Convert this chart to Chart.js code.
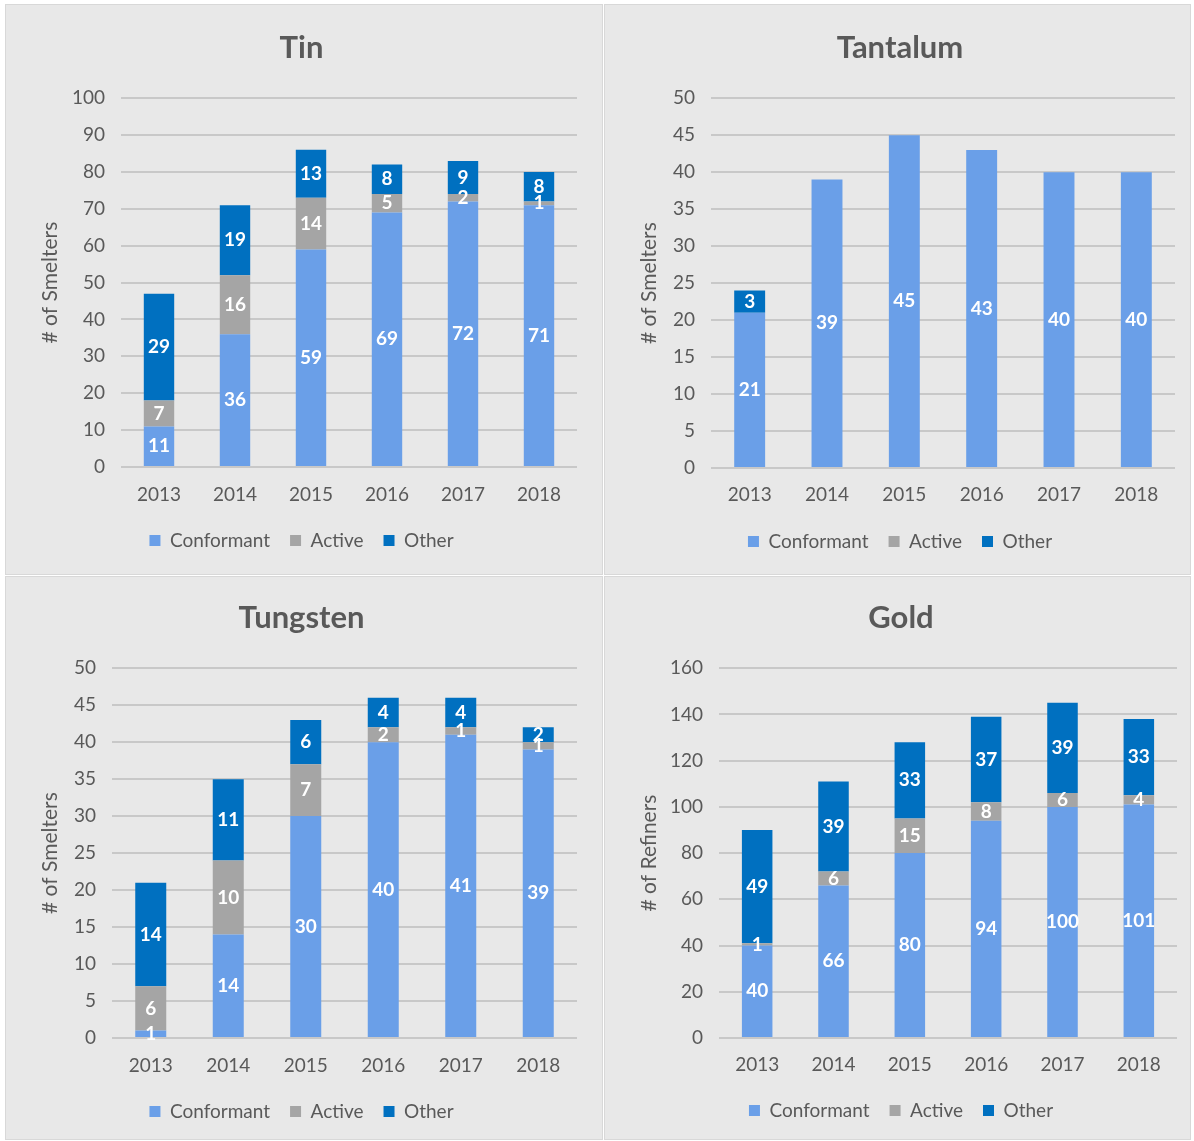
<!DOCTYPE html>
<html>
<head>
<meta charset="utf-8">
<script src="https://cdn.jsdelivr.net/npm/chart.js@4.4.1/dist/chart.umd.min.js"></script>
<style>
  body { margin: 0; background: #ffffff; }
  #page { position: relative; width: 1194px; height: 1141px; }
  .panel { position: absolute; background: #e8e8e8; box-sizing: border-box; border: 1px solid #d8d8d8; }
</style>
</head>
<body>
<div id="page">
  <div class="panel" style="left:5px; top:4px; width:598px; height:571px;"><canvas id="tinChart"></canvas></div>
  <div class="panel" style="left:604px; top:4px; width:587px; height:571px;"><canvas id="tantalumChart"></canvas></div>
  <div class="panel" style="left:5px; top:576px; width:598px; height:564px;"><canvas id="tungstenChart"></canvas></div>
  <div class="panel" style="left:604px; top:576px; width:587px; height:564px;"><canvas id="goldChart"></canvas></div>
</div>
<script>
// Datos
const years = ['2013', '2014', '2015', '2016', '2017', '2018'];

const tinConformant = [11, 36, 59, 69, 72, 71];
const tinActive = [7, 16, 14, 5, 2, 1];
const tinOther = [29, 19, 13, 8, 9, 8];

const tantalumConformant = [21, 39, 45, 43, 40, 40];
const tantalumActive = [0, 0, 0, 0, 0, 0];
const tantalumOther = [3, 0, 0, 0, 0, 0];

const tungstenConformant = [1, 14, 30, 40, 41, 39];
const tungstenActive = [6, 10, 7, 2, 1, 1];
const tungstenOther = [14, 11, 6, 4, 4, 2];

const goldConformant = [40, 66, 80, 94, 100, 101];
const goldActive = [1, 6, 15, 8, 6, 4];
const goldOther = [49, 39, 33, 37, 39, 33];

const textColor = '#595959';
Chart.defaults.font.family = 'Lato, "Open Sans", sans-serif';
Chart.defaults.color = textColor;

// etiquetas blancas dentro de cada segmento
const segmentLabels = {
    id: 'segmentLabels',
    afterDatasetsDraw(chart) {
        const ctx = chart.ctx;
        ctx.save();
        ctx.font = 'bold 19px Lato, "Open Sans", sans-serif';
        ctx.fillStyle = '#ffffff';
        ctx.textAlign = 'center';
        ctx.textBaseline = 'middle';
        chart.data.datasets.forEach((ds, i) => {
            chart.getDatasetMeta(i).data.forEach((bar, j) => {
                const v = ds.data[j];
                if (!v) return;
                const p = bar.getProps(['x', 'y', 'base'], true);
                ctx.fillText(String(v), p.x, (p.y + p.base) / 2);
            });
        });
        ctx.restore();
    }
};

function makeChart(id, title, yTitle, conformant, active, other, yMax, step, box) {
    const ctx = document.getElementById(id).getContext('2d');
    return new Chart(ctx, {
        type: 'bar',
        data: {
            labels: years,
            datasets: [
                { label: 'Conformant', data: conformant, backgroundColor: '#6a9fe8' },
                { label: 'Active', data: active, backgroundColor: '#a5a5a5' },
                { label: 'Other', data: other, backgroundColor: '#0070c0' }
            ]
        },
        options: {
            responsive: true,
            maintainAspectRatio: false,
            animation: false,
            barPercentage: 0.4,
            categoryPercentage: 1,
            layout: { padding: { left: 20, right: box.right, top: 0, bottom: box.bottom } },
            plugins: {
                title: {
                    display: true,
                    text: title,
                    color: textColor,
                    font: { size: 31, weight: 'bold' },
                    padding: { top: box.titleTop, bottom: 32 }
                },
                legend: {
                    position: 'bottom',
                    labels: { boxWidth: 11, boxHeight: 11, padding: 20, color: textColor, font: { size: 19 } }
                },
                tooltip: { enabled: false }
            },
            scales: {
                x: {
                    stacked: true,
                    grid: { display: false, drawTicks: false },
                    border: { display: false },
                    ticks: { color: textColor, font: { size: 19 }, padding: box.xPad },
                    afterFit: (s) => { s.height = box.xHeight; }
                },
                y: {
                    stacked: true,
                    min: 0,
                    max: yMax,
                    ticks: { stepSize: step, color: textColor, font: { size: 19 }, padding: 16 },
                    grid: { color: '#c8c8c8', lineWidth: 2, drawTicks: false },
                    border: { display: false },
                    title: { display: true, text: yTitle, color: textColor, font: { size: 21 }, padding: { top: 12 } },
                    afterFit: (s) => { s.width = box.yWidth; }
                }
            }
        },
        plugins: [segmentLabels]
    });
}

makeChart('tinChart', 'Tin', '# of Smelters', tinConformant, tinActive, tinOther, 100, 10,
    { right: 25, bottom: 14, titleTop: 24, xHeight: 44, xPad: 16, yWidth: 95 });
makeChart('tantalumChart', 'Tantalum', '# of Smelters', tantalumConformant, tantalumActive, tantalumOther, 50, 5,
    { right: 15, bottom: 13, titleTop: 24, xHeight: 44, xPad: 15, yWidth: 86 });
makeChart('tungstenChart', 'Tungsten', '# of Smelters', tungstenConformant, tungstenActive, tungstenOther, 50, 5,
    { right: 25, bottom: 8, titleTop: 22, xHeight: 44, xPad: 16, yWidth: 86 });
makeChart('goldChart', 'Gold', '# of Refiners', goldConformant, goldActive, goldOther, 160, 20,
    { right: 13, bottom: 9, titleTop: 22, xHeight: 43, xPad: 15, yWidth: 94 });
</script>
</body>
</html>
